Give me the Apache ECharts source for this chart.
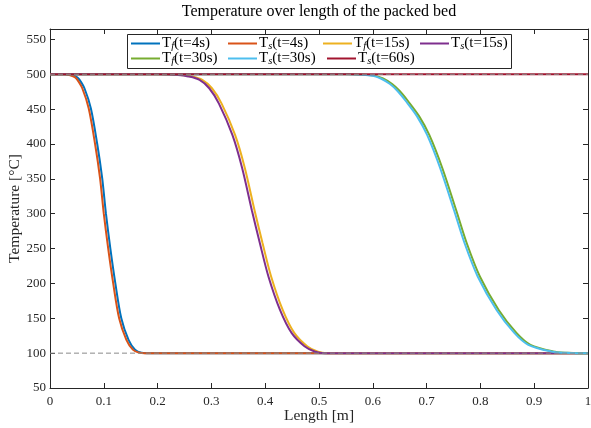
<!DOCTYPE html>
<html><head><meta charset="utf-8">
<script src="https://cdn.jsdelivr.net/npm/echarts@6/dist/echarts.min.js"></script>
<style>html,body{margin:0;padding:0;background:#fff}#c{width:591px;height:428px}</style>
</head><body><div id="c"></div>
<script>
// ---- data ----
const lenTf4  = [0, 0.03, 0.04, 0.05, 0.055, 0.064, 0.076, 0.0878, 0.097, 0.104, 0.1122, 0.1215, 0.1325, 0.146, 0.158, 0.17, 0.18, 1];
const tempTf4 = [500, 500, 499, 496, 492, 480, 451, 400, 351, 300, 250, 200, 150, 119, 105, 100.5, 100, 100];
const lenTs4  = [0, 0.026, 0.036, 0.046, 0.051, 0.060, 0.072, 0.0838, 0.093, 0.100, 0.1082, 0.1175, 0.1285, 0.142, 0.154, 0.166, 0.176, 1];
const tempTs4 = [500, 500, 499, 496, 492, 480, 451, 400, 351, 300, 250, 200, 150, 119, 105, 100.5, 100, 100];
const lenTf15  = [0, 0.205, 0.243, 0.262, 0.283, 0.301, 0.319, 0.344, 0.362, 0.3805, 0.395, 0.411, 0.4325, 0.454, 0.478, 0.498, 0.515, 1];
const tempTf15 = [500, 500, 499, 497, 492, 480, 458, 413, 366, 304, 258, 210, 162, 129, 110, 102, 100, 100];
const lenTs15  = [0, 0.2, 0.238, 0.257, 0.278, 0.296, 0.314, 0.339, 0.357, 0.3755, 0.390, 0.406, 0.4275, 0.449, 0.473, 0.493, 0.51, 1];
const tempTs15 = [500, 500, 499, 497, 492, 480, 458, 413, 366, 304, 258, 210, 162, 129, 110, 102, 100, 100];
const lenTf30  = [0, 0.554, 0.584, 0.604, 0.619, 0.636, 0.650, 0.666, 0.686, 0.705, 0.729, 0.755, 0.7745, 0.799, 0.834, 0.867, 0.893, 0.935, 0.962, 0.985, 1];
const tempTf30 = [500, 500, 499.5, 498, 494, 486, 476, 461, 440, 413, 366, 305, 258, 210, 162, 129, 112, 102.5, 100.5, 100, 100];
const lenTs30  = [0, 0.55, 0.58, 0.60, 0.615, 0.632, 0.646, 0.662, 0.682, 0.701, 0.725, 0.751, 0.7705, 0.795, 0.830, 0.863, 0.889, 0.931, 0.958, 0.981, 1];
const tempTs30 = [500, 500, 499.5, 498, 494, 486, 476, 461, 440, 413, 366, 305, 258, 210, 162, 129, 112, 102.5, 100.5, 100, 100];
const lenTs60  = [0, 1];
const tempTs60 = [500, 500];
const refTemps = [100, 500];
const seriesNames = ['T_f(t=4s)', 'T_s(t=4s)', 'T_f(t=15s)', 'T_s(t=15s)', 'T_f(t=30s)', 'T_s(t=30s)', 'T_s(t=60s)'];
const xTicks = [0, 0.1, 0.2, 0.3, 0.4, 0.5, 0.6, 0.7, 0.8, 0.9, 1];
const yTicks = [50, 100, 150, 200, 250, 300, 350, 400, 450, 500, 550];

const colors = ['#0072BD', '#D95319', '#EDB120', '#7E2F8E', '#77AC30', '#4DBEEE', '#A2142F'];
const lens  = [lenTf4, lenTs4, lenTf15, lenTs15, lenTf30, lenTs30, lenTs60];
const temps = [tempTf4, tempTs4, tempTf15, tempTs15, tempTf30, tempTs30, tempTs60];
const zip = (a, b) => a.map((v, i) => [v, b[i]]);

const FONT = 'Liberation Serif';
const AX = '#262626';

const series = seriesNames.map((n, i) => ({
  name: n, type: 'line', data: zip(lens[i], temps[i]),
  symbol: 'none', smooth: 0.3,
  lineStyle: { color: colors[i], width: 2 }, itemStyle: { color: colors[i] },
  emphasis: { disabled: true }, animation: false, z: 2
}));
refTemps.forEach(t => series.push({
  type: 'line', data: [[0, t], [1, t]], symbol: 'none', silent: true, animation: false,
  lineStyle: { color: '#8a8a8a', width: 1, type: [5, 3] }, z: 3
}));

// legend layout (one legend per item)
const legCols = [[131, 228, 323, 420], [131, 228, 327]];
const legRows = [43.5, 58.5];
const legends = [];
let k = 0;
legCols.forEach((row, r) => row.forEach(x => {
  legends.push({
    data: [seriesNames[k++]], left: x, top: legRows[r] - 8, padding: 0,
    icon: 'rect', itemWidth: 29, itemHeight: 2, itemGap: 0, selectedMode: false,
    formatter: n => n.replace(/_(\w)/, '{s|$1}'),
    textStyle: {
      fontFamily: FONT, fontSize: 15, color: '#000', lineHeight: 16, padding: [0, 0, 0, -3],
      rich: { s: { fontFamily: FONT, fontSize: 10.5, fontStyle: 'italic', lineHeight: 8, verticalAlign: 'bottom', color: '#000' } }
    }
  });
}));

const axisCommonX = {
  type: 'value', min: 0, max: 1, interval: 0.1,
  axisLine: { show: true, onZero: false, lineStyle: { color: AX, width: 1 } },
  axisTick: { show: true, inside: true, length: 5, lineStyle: { color: AX } },
  splitLine: { show: false }
};
const axisCommonY = {
  type: 'value', min: 50, max: 565, interval: 50,
  axisLine: { show: true, onZero: false, lineStyle: { color: AX, width: 1 } },
  axisTick: { show: true, inside: true, length: 5, lineStyle: { color: AX } },
  splitLine: { show: false }
};

const chart = echarts.init(document.getElementById('c'), null, { renderer: 'canvas' });
chart.setOption({
  animation: false,
  backgroundColor: '#fff',
  grid: { left: 50, right: 3, top: 29, bottom: 40, containLabel: false, outerBoundsMode: 'none' },
  xAxis: [
    Object.assign({}, axisCommonX, {
      position: 'bottom', name: 'Length [m]', nameLocation: 'middle', nameGap: 20, nameMoveOverlap: false,
      nameTextStyle: { fontFamily: FONT, fontSize: 15.5, color: AX },
      axisLabel: { fontFamily: FONT, fontSize: 13, color: AX, margin: 7,
        formatter: v => { const t = xTicks.find(x => Math.abs(x - v) < 1e-9); return t === undefined ? '' : String(t); } }
    }),
    Object.assign({}, axisCommonX, { position: 'top', axisLabel: { show: false } })
  ],
  yAxis: [
    Object.assign({}, axisCommonY, {
      position: 'left', name: 'Temperature [°C]', nameLocation: 'middle', nameGap: 27, nameRotate: 90, nameMoveOverlap: false,
      nameTextStyle: { fontFamily: FONT, fontSize: 15.5, color: AX },
      axisLabel: { fontFamily: FONT, fontSize: 13, color: AX, margin: 4, showMaxLabel: false,
        formatter: v => yTicks.indexOf(v) >= 0 ? String(v) : '' }
    }),
    Object.assign({}, axisCommonY, { position: 'right', axisLabel: { show: false } })
  ],
  legend: legends,
  graphic: [
    { type: 'rect', z: 0, shape: { x: 127.5, y: 34.5, width: 384, height: 34 },
      style: { fill: '#fff', stroke: AX, lineWidth: 1 } },
    { type: 'text', z: 10, x: 319, y: 12,
      style: { text: 'Temperature over length of the packed bed', fontFamily: FONT, fontSize: 16,
        fill: '#000', textAlign: 'center', textVerticalAlign: 'middle' } }
  ],
  series: series
});
</script></body></html>
